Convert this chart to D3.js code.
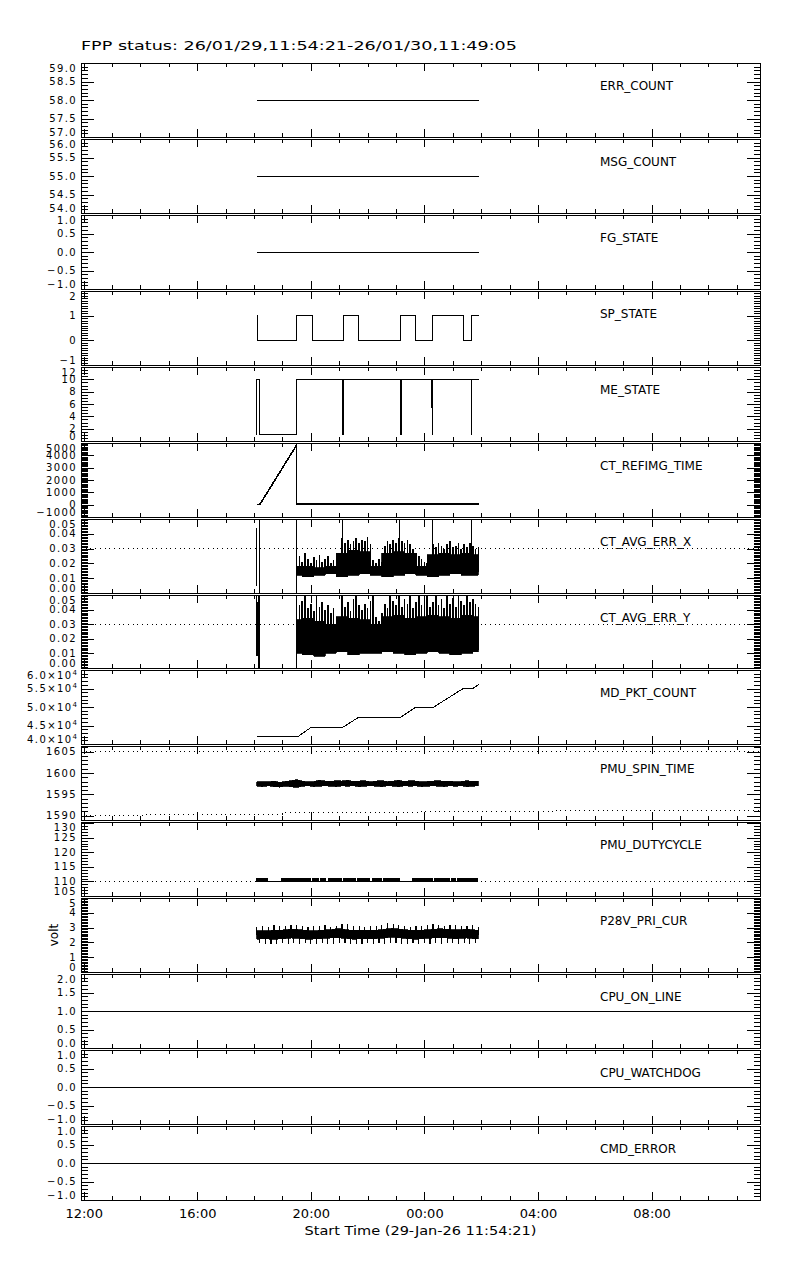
<!DOCTYPE html>
<html>
<head>
<meta charset="utf-8">
<script src="https://cdn.jsdelivr.net/npm/d3@7"></script>
<style>
  body { margin: 0; background: #fff; }
  text { font-family: "DejaVu Sans", sans-serif; fill: #000; }
</style>
</head>
<body>
<div id="chart"></div>
<script>
// ---- time range (UTC) ----
const startTime = Date.UTC(2026, 0, 29, 11, 54, 21);
const endTime = Date.UTC(2026, 0, 30, 11, 49, 5);
const hourZero = Date.UTC(2026, 0, 29, 12, 0, 0);   // data times are hours after 12:00
const titleText = "FPP status: 26/01/29,11:54:21-26/01/30,11:49:05";
const xTitle = "Start Time (29-Jan-26 11:54:21)";

// ---- panels ----
const panelNames = ["ERR_COUNT", "MSG_COUNT", "FG_STATE", "SP_STATE", "ME_STATE",
  "CT_REFIMG_TIME", "CT_AVG_ERR_X", "CT_AVG_ERR_Y", "MD_PKT_COUNT", "PMU_SPIN_TIME",
  "PMU_DUTYCYCLE", "P28V_PRI_CUR", "CPU_ON_LINE", "CPU_WATCHDOG", "CMD_ERROR"];
const yRanges = [[57, 59], [54, 56], [-1, 1], [-1, 2], [0, 12], [-1000, 5000], [0, 0.05], [0, 0.05],
  [40000, 60000], [1589, 1606.3], [105, 130.4], [0, 5], [0, 2], [-1, 1], [-1, 1]];
const yMajor = [0.5, 0.5, 0.5, 1, 2, 1000, 0.01, 0.01, 5000, 5, 5, 1, 0.5, 0.5, 0.5];
const yMinor = [0.1, 0.1, 0.1, 0.1, 0.5, 100, 0.001, 0.001, 1000, 1, 1, 0.1, 0.1, 0.1, 0.1];
const yFormats = [".1f", ".1f", ".1f", "d", "d", "d", ".2f", ".2f", "x10", "d", "d", "d", ".1f", ".1f", ".1f"];
const yUnits = ["", "", "", "", "", "", "", "", "", "", "", "volt", "", "", ""];

// ---- series: [hours after 12:00, value] ----
const errCount = [[6.09, 58], [13.91, 58]];
const msgCount = [[6.09, 55], [13.91, 55]];
const fgState = [[6.09, 0], [13.91, 0]];
const spState = [[6.09, 1], [6.12, 0], [7.50, 1], [8.06, 0], [9.14, 1], [9.68, 0], [11.16, 1],
  [11.69, 0], [12.28, 1], [13.37, 0], [13.66, 1], [13.91, 1]];
const meState = [[6.085, 1], [6.09, 10], [6.18, 1], [7.50, 10], [9.13, 1], [9.16, 10], [11.15, 1],
  [11.18, 10], [12.25, 5.5], [12.28, 1], [12.29, 10], [13.66, 1], [13.665, 10], [13.91, 10]];
const refImgTime = [[6.09, 0], [6.2, 0], [7.49, 4800], [7.495, 60], [13.91, 60]];

// CT_AVG_ERR_X / _Y : peaks every 0.1 h from 7.5 h, core band every 0.4 h from 7.5 h
const errX_peak = [0.022, 0.025, 0.021, 0.027, 0.023, 0.020, 0.024, 0.022, 0.026, 0.021, 0.023, 0.025, 0.020, 0.022, 0.024, 0.021,
  0.037, 0.034, 0.036, 0.033, 0.035, 0.037, 0.034, 0.036, 0.035, 0.038, 0.033,
  0.022, 0.020, 0.023, 0.021,
  0.032, 0.035, 0.033, 0.036, 0.034, 0.037, 0.035, 0.034, 0.036, 0.033, 0.030, 0.027, 0.025, 0.023,
  0.021, 0.020, 0.022,
  0.033, 0.031, 0.034, 0.032, 0.030, 0.033, 0.035, 0.031, 0.032, 0.034, 0.030, 0.033, 0.031, 0.034, 0.032, 0.030, 0.031];
const errX_coreTop = [0.018, 0.018, 0.017, 0.018, 0.027, 0.029, 0.028, 0.018, 0.027, 0.028, 0.027, 0.018, 0.026, 0.027, 0.026, 0.027, 0.026];
const errX_low = [0.012, 0.011, 0.012, 0.013, 0.011, 0.012, 0.013, 0.012, 0.011, 0.012, 0.013, 0.012, 0.011, 0.012, 0.013, 0.012, 0.012];
const errX_spikes = [[6.09, 0.005, 0.044], [6.10, 0.0085, 0.027], [6.18, 0, 0.05], [7.49, 0, 0.05],
  [9.13, 0.02, 0.05], [11.11, 0.02, 0.05], [12.27, 0.02, 0.05], [13.66, 0.02, 0.05]];

const errY_peak = [0.040, 0.043, 0.046, 0.050, 0.041, 0.044, 0.039, 0.050, 0.042, 0.045, 0.040, 0.043, 0.038, 0.041, 0.024, 0.022,
  0.050, 0.042, 0.045, 0.039, 0.047, 0.050, 0.043, 0.040, 0.044, 0.041, 0.046,
  0.050, 0.035, 0.032, 0.038,
  0.044, 0.041, 0.050, 0.046, 0.043, 0.050, 0.042, 0.047, 0.044, 0.050, 0.041, 0.045, 0.050, 0.043,
  0.046, 0.050, 0.042,
  0.045, 0.050, 0.043, 0.047, 0.041, 0.050, 0.044, 0.048, 0.042, 0.050, 0.046, 0.043, 0.050, 0.045, 0.047, 0.044, 0.042];
const errY_coreTop = [0.033, 0.034, 0.032, 0.030, 0.035, 0.034, 0.033, 0.030, 0.035, 0.036, 0.034, 0.035, 0.036, 0.035, 0.034, 0.036, 0.035];
const errY_low = [0.010, 0.009, 0.008, 0.010, 0.011, 0.009, 0.010, 0.010, 0.011, 0.010, 0.009, 0.010, 0.011, 0.010, 0.009, 0.010, 0.011];
const errY_spikes = [[6.09, 0.012, 0.05], [6.10, 0.008, 0.045], [6.18, 0, 0.05], [7.49, 0, 0.05]];
const errLimit = 0.03;

const pktCount = [[6.09, 42070], [7.556, 42070], [8.028, 44580], [9.141, 44580], [9.694, 47270],
  [11.173, 47270], [11.665, 49800], [12.289, 49800], [13.345, 54900], [13.683, 54900], [13.908, 56070]];

// PMU_SPIN_TIME band every 0.2 h from 6.1 h
const spinHi = [1597.9, 1598.0, 1597.9, 1598.1, 1597.8, 1598.0, 1598.2, 1598.4, 1598.1, 1597.9, 1598.0, 1598.3, 1598.1, 1598.0,
  1598.2, 1598.1, 1598.3, 1598.0, 1598.1, 1598.2, 1597.9, 1598.1, 1598.2, 1598.0, 1598.1, 1598.3, 1598.0, 1598.2,
  1598.1, 1597.9, 1598.0, 1598.1, 1598.2, 1598.0, 1598.1, 1597.9, 1598.0, 1598.2, 1598.0, 1598.1];
const spinLo = [1596.9, 1596.8, 1597.0, 1596.8, 1596.7, 1596.9, 1596.8, 1596.6, 1596.9, 1597.0, 1596.8, 1596.9, 1597.0, 1596.9,
  1596.8, 1597.0, 1596.9, 1597.0, 1596.8, 1596.9, 1597.0, 1596.9, 1596.8, 1597.0, 1596.9, 1596.8, 1597.0, 1596.9,
  1597.0, 1596.8, 1596.9, 1597.0, 1596.9, 1596.8, 1597.0, 1596.9, 1597.0, 1596.8, 1596.9, 1597.0];
const spinLimitHi = [[-0.094, 1605], [23.818, 1605]];
const spinLimitLo = [[-0.094, 1590.1], [2.16, 1590.4], [6.99, 1590.7], [11.84, 1590.9], [16.6, 1591.2], [23.818, 1591.2]];

// PMU_DUTYCYCLE: base value, and spans where it flips to 111
const dutyBase = [[6.07, 110], [13.9, 110]];
const dutyHigh = 111.3;
const dutySpans = [[6.07, 6.5], [6.94, 8.0], [8.05, 8.3], [8.34, 8.55], [8.6, 9.1], [9.15, 9.6], [9.64, 10.1],
  [10.14, 10.5], [10.55, 11.14], [11.55, 12.3], [12.35, 12.9], [12.95, 13.1], [13.14, 13.89]];
const dutyLimit = [[-0.094, 110], [23.818, 110]];

// P28V_PRI_CUR: core band every 0.2 h from 6.1 h, spikes every 0.1 h from 6.1 h
const p28Hi = [2.78, 2.80, 2.79, 2.82, 2.81, 2.85, 2.90, 2.88, 2.84, 2.80, 2.79, 2.81, 2.83, 2.86, 2.92, 2.90, 2.85, 2.80, 2.82, 2.84,
  2.81, 2.83, 2.86, 2.92, 2.95, 2.90, 2.86, 2.82, 2.80, 2.83, 2.85, 2.88, 2.92, 2.90, 2.87, 2.84, 2.86, 2.89, 2.85, 2.82];
const p28Lo = [2.22, 2.25, 2.23, 2.21, 2.24, 2.26, 2.30, 2.28, 2.24, 2.22, 2.23, 2.25, 2.27, 2.30, 2.33, 2.29, 2.26, 2.22, 2.24, 2.25,
  2.23, 2.26, 2.28, 2.33, 2.35, 2.31, 2.27, 2.24, 2.22, 2.25, 2.27, 2.30, 2.33, 2.31, 2.28, 2.25, 2.27, 2.30, 2.26, 2.24];
const p28Spikes = [3.05, 1.95, 3.10, 1.90, 3.02, 1.88, 3.15, 1.92, 3.08, 1.95,
  3.12, 1.90, 3.20, 1.93, 3.18, 1.89, 3.10, 1.94, 3.05, 1.90,
  3.08, 1.92, 3.12, 1.96, 3.15, 1.91, 3.06, 1.88, 3.10, 1.93,
  3.22, 1.95, 3.25, 1.90, 3.14, 1.92, 3.08, 1.89, 3.05, 1.94,
  3.10, 1.91, 3.12, 1.95, 3.18, 1.90, 3.28, 1.93, 3.22, 1.96,
  3.15, 1.92, 3.08, 1.89, 3.05, 1.93, 3.10, 1.90, 3.12, 1.95,
  3.20, 1.92, 3.25, 1.94, 3.18, 1.90, 3.12, 1.93, 3.15, 1.96,
  3.20, 1.91, 3.12, 1.94, 3.08, 1.90, 3.15, 1.93, 3.05];

const cpuOnLine = [[-0.094, 1], [23.818, 1]];
const cpuWatchdog = [[-0.094, 0], [23.818, 0]];
const cmdError = [[-0.094, 0], [23.818, 0]];

// ---- layout ----
const W = 800, H = 1280, L = 81, R = 760;
const T = (h) => new Date(hourZero + h * 3600e3);

const svg = d3.select("#chart").append("svg")
  .attr("width", W).attr("height", H)
  .attr("shape-rendering", "crispEdges");

const x = d3.scaleUtc().domain([new Date(startTime), new Date(endTime)]).range([L, R]);
const xMinor = x.ticks(d3.utcHour.every(1));
const xMajor = x.ticks(d3.utcHour.every(4));

const tops = panelNames.map((d, i) => Math.round(63 + i * 75.93));
const bots = tops.map((t, i) => i < tops.length - 1 ? tops[i + 1] - 2 : 1200);

function steps(lo, hi, st) {
  let a = Math.ceil(lo / st - 1e-6), b = Math.floor(hi / st + 1e-6);
  return d3.range(a, b + 1).map(k => +(k * st).toFixed(6));
}

const panels = panelNames.map((name, i) => {
  let g = svg.append("g").attr("class", "panel");
  let y = d3.scaleLinear().domain(yRanges[i]).range([bots[i], tops[i]]);
  return { g, y, top: tops[i], bot: bots[i], i };
});

// ---- drawing helpers ----
function drawLine(p, pts, opt) {
  opt = opt || {};
  p.g.append("path")
    .attr("d", d3.line().x(d => x(T(d[0]))).y(d => p.y(d[1])).curve(opt.curve || d3.curveLinear)(pts))
    .attr("fill", "none").attr("stroke", "#000")
    .attr("stroke-width", opt.w || 1)
    .attr("stroke-dasharray", opt.dash || null);
}
function drawBand(p, start, step, hi, lo, curve) {
  let ln = d3.line().x(d => x(T(d[0]))).y(d => p.y(d[1])).curve(curve || d3.curveLinear);
  let top = ln(hi.map((v, k) => [start + k * step, v]));
  let bottom = ln(lo.map((v, k) => [start + k * step, v]).reverse());
  p.g.append("path")
    .attr("d", top + "L" + bottom.slice(1) + "Z")
    .attr("fill", "#000").attr("stroke", "#000").attr("stroke-width", 0.8);
}
function drawVLines(p, rows, w) {
  p.g.append("g").selectAll("line").data(rows).enter().append("line")
    .attr("x1", d => x(T(d[0]))).attr("x2", d => x(T(d[0])))
    .attr("y1", d => p.y(d[1])).attr("y2", d => p.y(d[2]))
    .attr("stroke", "#000").attr("stroke-width", w || 1);
}
function drawComb(p, start, step, vals, base, w) {
  drawVLines(p, vals.map((v, k) => [start + k * step, base, v]), w);
}
const dotted = "1,3.7";

// ---- data ----
drawLine(panels[0], errCount);
drawLine(panels[1], msgCount);
drawLine(panels[2], fgState);
drawLine(panels[3], spState, { curve: d3.curveStepAfter });
drawLine(panels[4], meState, { curve: d3.curveStepAfter });
drawLine(panels[5], refImgTime, { w: 1.6 });

drawLine(panels[6], [[-0.094, errLimit], [23.818, errLimit]], { dash: dotted });
drawBand(panels[6], 7.5, 0.4, errX_coreTop, errX_low, d3.curveStep);
drawComb(panels[6], 7.5, 0.1, errX_peak, 0.014, 1.7);
drawVLines(panels[6], errX_spikes, 1);

drawLine(panels[7], [[-0.094, errLimit], [23.818, errLimit]], { dash: dotted });
drawBand(panels[7], 7.5, 0.4, errY_coreTop, errY_low, d3.curveStep);
drawComb(panels[7], 7.5, 0.1, errY_peak, 0.012, 1.7);
drawVLines(panels[7], errY_spikes, 1.6);

drawLine(panels[8], pktCount);

drawLine(panels[9], spinLimitHi, { dash: dotted });
drawLine(panels[9], spinLimitLo, { dash: dotted, curve: d3.curveStepAfter });
drawBand(panels[9], 6.1, 0.2, spinHi, spinLo);

drawLine(panels[10], dutyLimit, { dash: dotted });
drawLine(panels[10], dutyBase);
panels[10].g.append("g").selectAll("rect").data(dutySpans).enter().append("rect")
  .attr("x", d => x(T(d[0]))).attr("width", d => x(T(d[1])) - x(T(d[0])))
  .attr("y", panels[10].y(dutyHigh)).attr("height", panels[10].y(110) - panels[10].y(dutyHigh))
  .attr("fill", "#000");

drawBand(panels[11], 6.1, 0.2, p28Hi, p28Lo);
drawComb(panels[11], 6.1, 0.1, p28Spikes, 2.5, 1.2);

drawLine(panels[12], cpuOnLine);
drawLine(panels[13], cpuWatchdog);
drawLine(panels[14], cmdError);

// ---- frames, ticks, labels ----
const noLabel = () => "";
panels.forEach(p => {
  let i = p.i, g = p.g, y = p.y;
  g.append("rect").attr("x", L + 0.5).attr("y", p.top + 0.5)
    .attr("width", R - L).attr("height", p.bot - p.top)
    .attr("fill", "none").attr("stroke", "#000");

  let tk = (axis, tr, vals, size) => g.append("g").attr("transform", tr)
    .call(axis.tickValues(vals).tickSize(size).tickFormat(noLabel))
    .call(a => a.select(".domain").remove());

  tk(d3.axisBottom(x), `translate(0,${p.top})`, xMinor, 4);
  tk(d3.axisBottom(x), `translate(0,${p.top})`, xMajor, 8);
  tk(d3.axisTop(x), `translate(0,${p.bot})`, xMinor, 4);
  tk(d3.axisTop(x), `translate(0,${p.bot})`, xMajor, 8);

  let minors = steps(yRanges[i][0], yRanges[i][1], yMinor[i]);
  let majors = steps(yRanges[i][0], yRanges[i][1], yMajor[i]);
  tk(d3.axisRight(y), `translate(${L},0)`, minors, 6.5);
  tk(d3.axisRight(y), `translate(${L},0)`, majors, 13);
  tk(d3.axisLeft(y), `translate(${R},0)`, minors, 6.5);
  tk(d3.axisLeft(y), `translate(${R},0)`, majors, 13);

  // y tick labels, kept inside the panel
  majors.forEach(v => {
    let yy = Math.max(p.top + 5, Math.min(p.bot - 5, y(v)));
    let t = g.append("text").attr("x", 77).attr("y", yy).attr("dy", "0.36em")
      .attr("text-anchor", "end").attr("font-size", 10).attr("letter-spacing", 1.4);
    if (yFormats[i] === "x10") {
      t.append("tspan").text(d3.format(".1f")(v / 1e4) + "\u00d710");
      t.append("tspan").attr("dy", -4).attr("font-size", 7).attr("letter-spacing", 0).text("4");
    } else {
      t.text(d3.format(yFormats[i])(v));
    }
  });

  if (yUnits[i]) {
    g.append("text").attr("transform", `translate(58,${(p.top + p.bot) / 2}) rotate(-90)`)
      .attr("text-anchor", "middle").attr("font-size", 12).text(yUnits[i]);
  }

  g.append("text").attr("x", 600).attr("y", p.top + 27)
    .attr("font-size", 12).text(panelNames[i]);
});

// bottom time labels
const last = panels[panels.length - 1];
svg.append("g").attr("transform", `translate(0,${last.bot})`)
  .call(d3.axisBottom(x).tickValues(xMajor).tickSize(0).tickPadding(9).tickFormat(d3.utcFormat("%H:%M")))
  .call(a => a.select(".domain").remove())
  .call(a => a.selectAll("text").attr("font-family", "DejaVu Sans").attr("font-size", 13).attr("fill", "#000"));

svg.append("text").attr("x", (L + R) / 2).attr("y", 1235)
  .attr("text-anchor", "middle").attr("font-size", 13)
  .attr("textLength", 232).attr("lengthAdjust", "spacingAndGlyphs").text(xTitle);

svg.append("text").attr("x", 81).attr("y", 50)
  .attr("font-size", 13).attr("textLength", 436).attr("lengthAdjust", "spacingAndGlyphs")
  .text(titleText);
</script>
</body>
</html>
